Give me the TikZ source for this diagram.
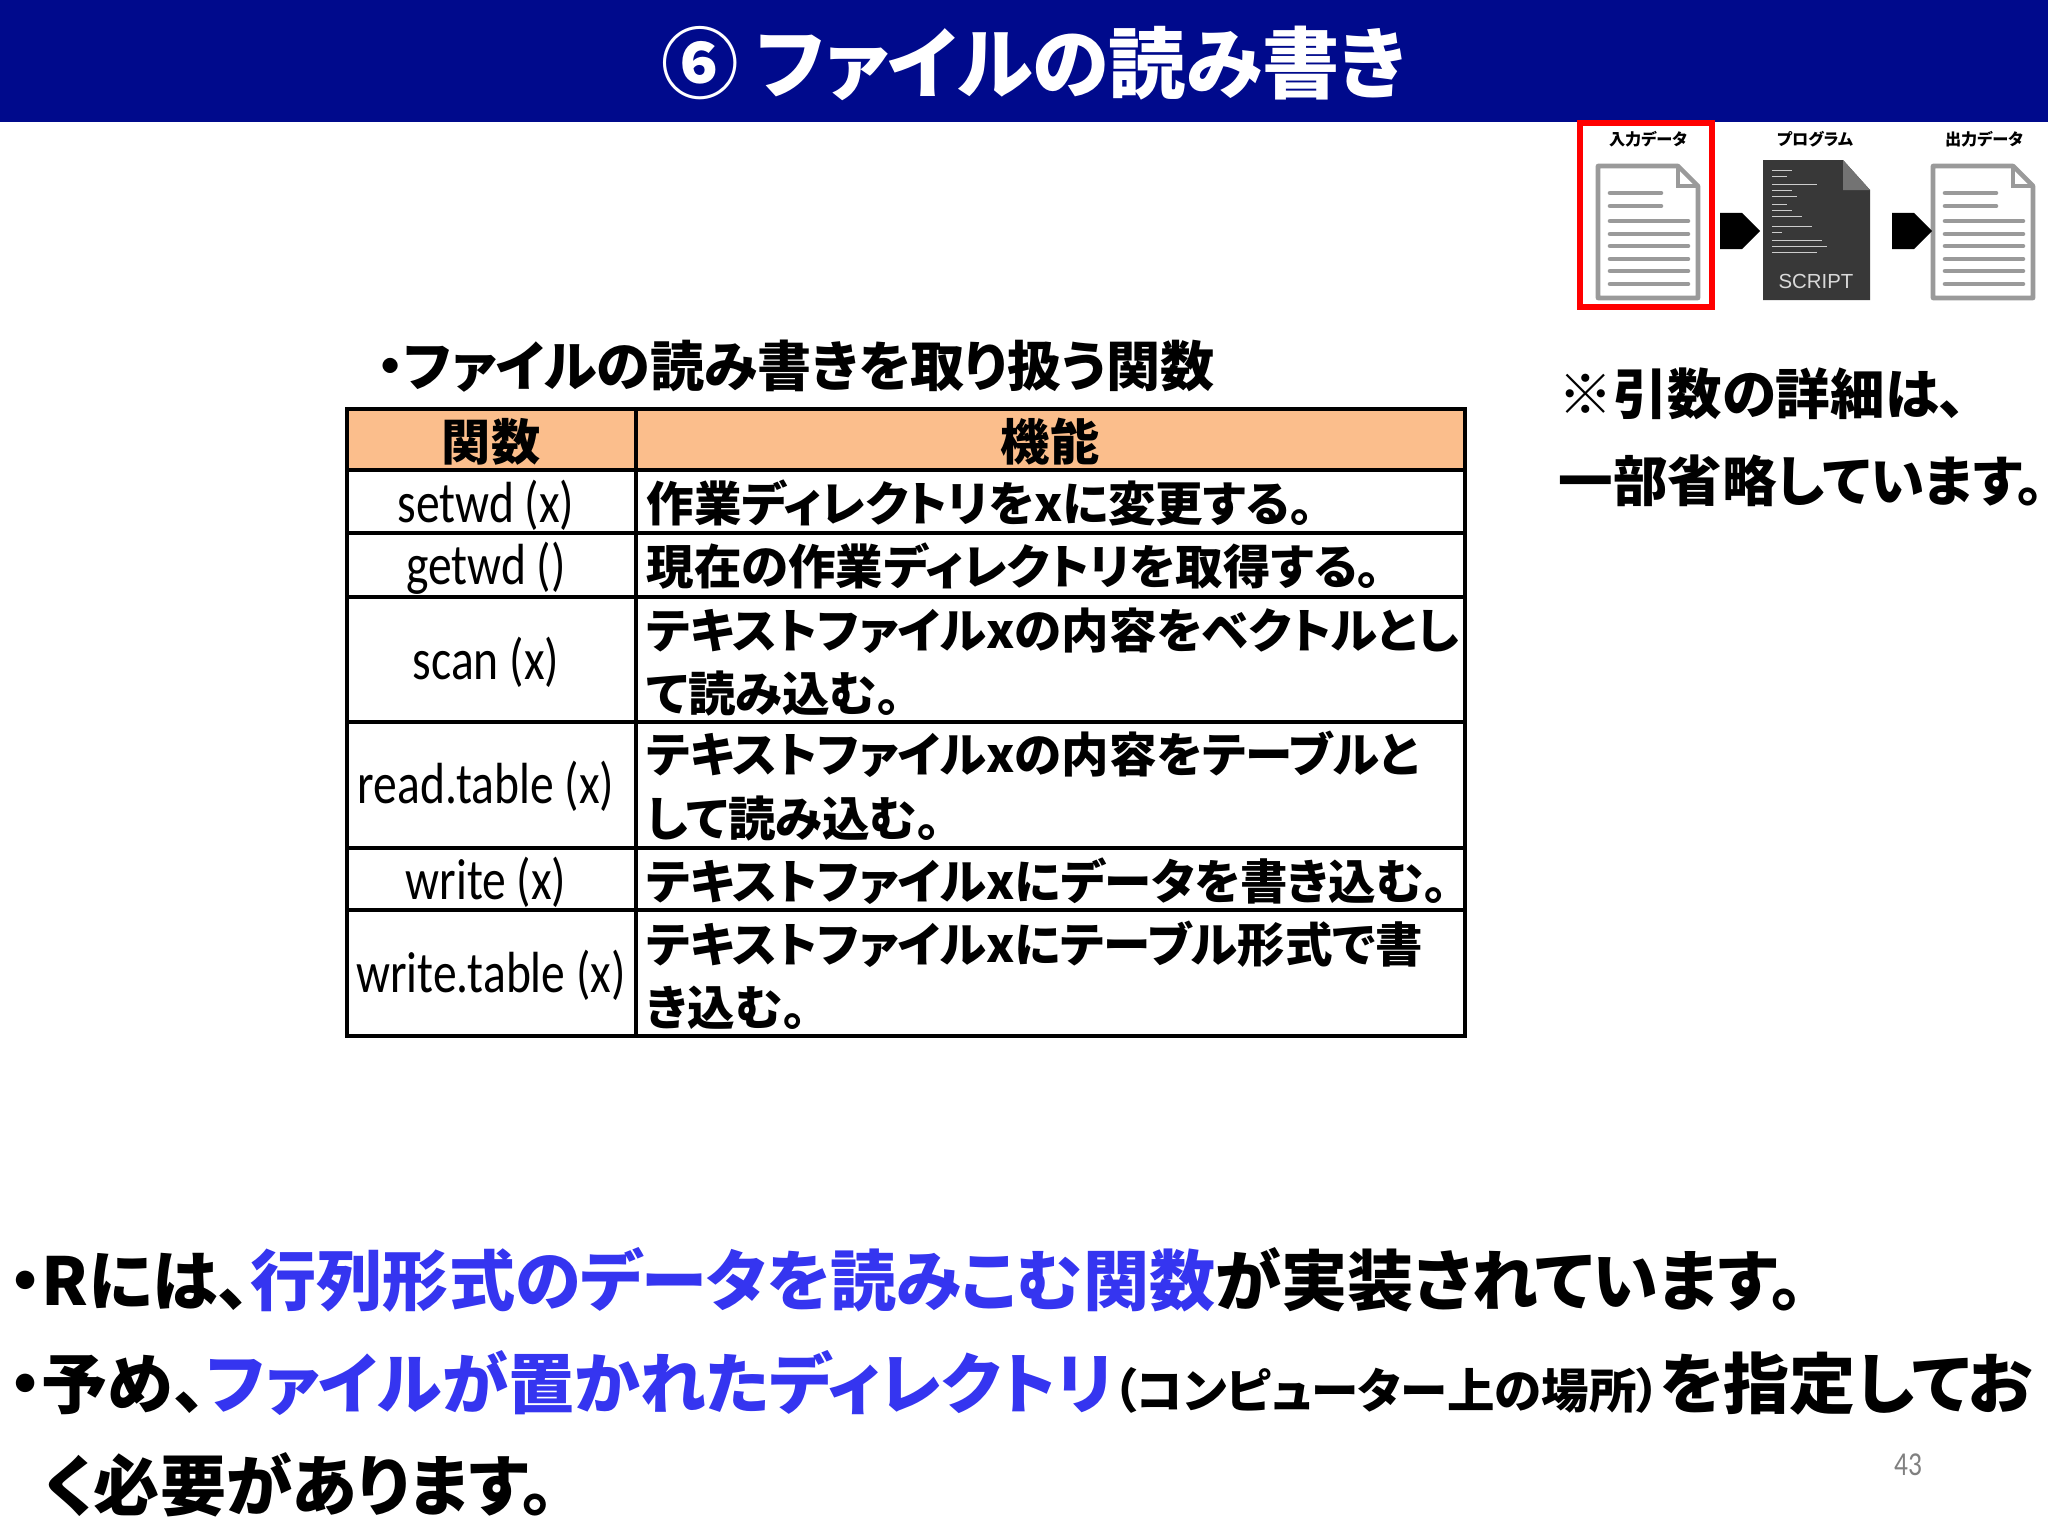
\documentclass[tikz,border=0pt]{standalone}
\usepackage{fontspec}
\usetikzlibrary{shapes.arrows}
\setmainfont{Noto Sans CJK JP}
\newfontfamily\jp[RawFeature=+palt]{Noto Sans CJK JP}
\newfontfamily\carl[FakeStretch=0.82]{Carlito}
\newfontfamily\libsans{Liberation Sans}
\definecolor{navy}{HTML}{000A8C}
\definecolor{hdr}{HTML}{FBBE8C}
\definecolor{blu}{HTML}{3535F0}
\definecolor{gr}{HTML}{9A9A9A}
\newcommand\mydoc[2]{%
\begin{scope}[shift={(#1,#2)}]
\draw[gr,line width=1.3pt,line join=round,fill=white] (0,0) -- (80,0) -- (100,20) -- (100,132) -- (0,132) -- cycle;
\draw[gr,line width=1.3pt] (80,0) -- (80,20) -- (100,20);
\foreach \yy in {27,40}{\draw[gr,line width=1.3pt,line cap=round] (12,\yy) -- (63,\yy);}
\foreach \yy in {55,68,80,93,105,118}{\draw[gr,line width=1.3pt,line cap=round] (12,\yy) -- (90,\yy);}
\end{scope}}
\begin{document}
\begin{tikzpicture}[x=0.01cm,y=-0.01cm,
  cell/.style={draw=black,line width=0.9pt},
  tx/.style={font=\jp\bfseries\fontsize{13.5}{18}\selectfont,anchor=west,inner sep=0pt,align=left},
  fn/.style={font=\carl\fontsize{16.5}{18}\selectfont,inner sep=0pt},
  lbl/.style={font=\jp\bfseries\fontsize{4.6}{6}\selectfont,inner sep=0pt},
  arr/.style={single arrow,fill=black,minimum height=0.4cm,minimum width=0.36cm,single arrow head extend=0pt,inner sep=0pt,single arrow tip angle=90}]
\useasboundingbox (0,0) rectangle (2048,1536);
\fill[white] (0,0) rectangle (2048,1536);
\fill[navy] (0,0) rectangle (2048,122);
\node[text=white,font=\jp\bfseries\fontsize{22}{26}\selectfont] (title) at (1034,63) {⑥ ファイルの読み書き};
% icons
\draw[red,line width=1.6pt] (1580,123) rectangle (1712,307);
\node[lbl] (l1) at (1648,139) {入力データ};
\node[lbl] (l2) at (1815,139) {プログラム};
\node[lbl] (l3) at (1984,139) {出力データ};
\mydoc{1598}{166}
\mydoc{1933}{166}
\fill[black!78] (1763,160) -- (1843,160) -- (1870,190) -- (1870,300) -- (1763,300) -- cycle;
\fill[black!55] (1843,160) -- (1843,190) -- (1870,190) -- cycle;
\foreach \yy/\ww in {170/20,176/15,184/45,190/20,196/25,204/15,210/20,216/30,226/40,232/10,240/50,246/55,252/45}{\draw[white!80!black,line width=0.25pt] (1772,\yy) -- ++(\ww,0);}
\node[text=white!85!black,font=\libsans\fontsize{5.8}{7}\selectfont] (scr) at (1816,281) {SCRIPT};
\node[arr] (a1) at (1731,231) {};
\node[arr] (a2) at (1903,231) {};
% subtitle
\node[font=\jp\bfseries\fontsize{15.4}{18}\selectfont,anchor=west,inner sep=0pt] (sub) at (376,366) {・ファイルの読み書きを取り扱う関数};
% table
\fill[hdr] (347,409) rectangle (1465,470);
\foreach \a/\b in {409/470,470/533,533/597,597/722,722/848,848/910,910/1036}{
  \draw[cell] (347,\a) rectangle (636,\b);
  \draw[cell] (636,\a) rectangle (1465,\b);}
\node[font=\jp\bfseries\fontsize{14}{18}\selectfont] (h1) at (491,442) {関数};
\node[font=\jp\bfseries\fontsize{14}{18}\selectfont] (h2) at (1050,442) {機能};
\node[fn] (f1) at (486,505) {setwd (x)};
\node[fn] (f2) at (486,568) {getwd ()};
\node[fn] (f3) at (486,662) {scan (x)};
\node[fn] (f4) at (486,786) {read.table (x)};
\node[fn] (f5) at (486,882) {write (x)};
\node[fn] (f6) at (491,975) {write.table (x)};
\node[tx] (d1) at (646,503) {作業ディレクトリをxに変更する。};
\node[tx] (d2) at (646,566) {現在の作業ディレクトリを取得する。};
\node[tx] (d3) at (646,662) {テキストファイルxの内容をベクトルとし\\て読み込む。};
\node[tx] (d4) at (646,786) {テキストファイルxの内容をテーブルと\\して読み込む。};
\node[tx] (d5) at (646,881) {テキストファイルxにデータを書き込む。};
\node[tx] (d6) at (646,975) {テキストファイルxにテーブル形式で書\\き込む。};
% note
\node[font=\jp\bfseries\fontsize{15.5}{18}\selectfont,anchor=west,inner sep=0pt] (n1) at (1558,394) {※引数の詳細は、};
\node[font=\jp\bfseries\fontsize{15.5}{18}\selectfont,anchor=west,inner sep=0pt] (n2) at (1558,481) {一部省略しています。};
% bullets
\node[font=\jp\bfseries\fontsize{18.8}{22}\selectfont,anchor=west,inner sep=0pt] (b1) at (8,1280) {・Rには、\textcolor{blu}{行列形式のデータを読みこむ関数}が実装されています。};
\node[font=\jp\bfseries\fontsize{18.8}{22}\selectfont,anchor=west,inner sep=0pt] (b2) at (8,1383) {・予め、\textcolor{blu}{ファイルが置かれたディレクトリ}{\fontsize{13.5}{16}\selectfont（コンピューター上の場所）}を指定してお};
\node[font=\jp\bfseries\fontsize{18.8}{22}\selectfont,anchor=west,inner sep=0pt] (b3) at (44,1485) {く必要があります。};
\node[font=\carl\fontsize{9.5}{11}\selectfont,text=gray] (pg) at (1908,1465) {43};
\end{tikzpicture}
\end{document}
